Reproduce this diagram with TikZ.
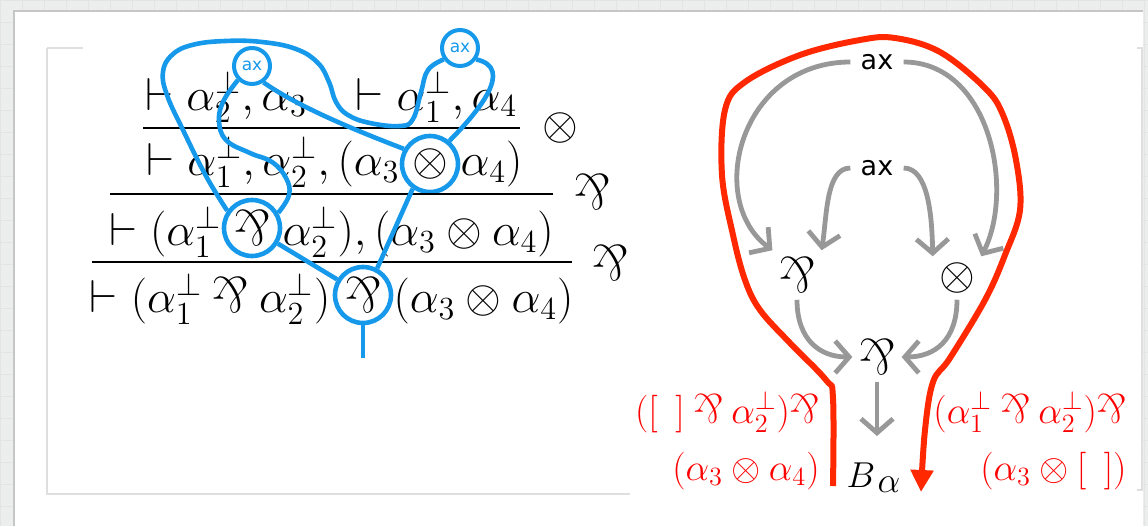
\RequirePackage{fix-cm}
\documentclass[tikz,border=0pt]{standalone}
\usepackage{amsmath}
\usepackage{graphicx}
\usepackage{fontspec}
\newfontfamily\axfont{DejaVu Sans}
\usetikzlibrary{positioning, arrows.meta, calc}
\definecolor{netblue}{RGB}{22,153,235}
\definecolor{flowgray}{RGB}{152,152,152}
\definecolor{trailred}{RGB}{255,40,0}
\definecolor{ctxred}{RGB}{255,0,0}
\definecolor{bggray}{RGB}{236,238,238}
\newcommand{\parrsym}{\mathbin{\scalebox{1.1}{\rotatebox[origin=c]{180}{\&}}}}
\newcommand{\dfont}{\fontsize{23}{28}\selectfont}
\newcommand{\gfont}{\fontsize{23}{28}\selectfont}

\begin{document}
\begin{tikzpicture}[x=0.5pt, y=-0.5pt,
  seq/.style={inner sep=0pt, font=\dfont},
  circ/.style={circle, draw=netblue, line width=2.3pt, minimum size=28pt,
    inner sep=0pt, font=\dfont},
  axc/.style={circle, draw=netblue, line width=2pt, minimum size=18pt,
    inner sep=0pt, text=netblue, font=\axfont\fontsize{8.5}{9}\selectfont},
  net/.style={draw=netblue, line width=2.3pt},
  rulel/.style={line width=0.9pt},
  axn/.style={inner sep=5pt, font=\axfont\fontsize{13.5}{15}\selectfont},
  gnode/.style={inner sep=3pt, font=\gfont},
  flow/.style={draw=flowgray, line width=2.4pt,
    -{Straight Barb[length=7pt, width=16pt]}},
  trail/.style={draw=trailred, line width=3pt,
    -{Triangle[length=11pt, width=11pt]}},
  ctx/.style={inner sep=0pt, text=ctxred, font=\fontsize{18.8}{22}\selectfont}
]
  \useasboundingbox (0,0) rectangle (1148,526);
  \fill[bggray] (0,0) rectangle (1148,526);
  \draw[gray!22, line width=0.4pt, step=11pt] (0,526) grid (1148,0);
  \fill[white] (14,11) rectangle (1143,526);
  \draw[gray!45, line width=1.2pt] (14,526) -- (14,11) -- (1143,11);
  \draw[gray!25, line width=0.8pt] (47,48) -- (83,48) (47,48) -- (47,494) -- (630,494)
    (1137,48) -- (1142,48) -- (1142,490) -- (1137,490);

  % sequent calculus proof
  \node[seq, anchor=base west] (l1a) at (145,110) {$\vdash \alpha_2^{\bot}, \alpha_3$};
  \node[seq, anchor=base west] (l1b) at ([xshift=24pt]l1a.base east) {$\vdash \alpha_1^{\bot}, \alpha_4$};

  \node[circ] (p2) at (430,164) {$\otimes$};
  \node[seq, anchor=base east] (l2a) at (p2.base west) {$\vdash \alpha_1^{\bot}, \alpha_2^{\bot}, (\alpha_3$};
  \node[seq, anchor=base west] (l2b) at (p2.base east) {$\alpha_4)$};

  \node[circ] (p3) at (252,228) {$\parrsym$};
  \node[seq, anchor=base east] (l3a) at (p3.base west) {$\vdash (\alpha_1^{\bot}$};
  \node[seq, anchor=base west] (l3b) at (p3.base east) {$\alpha_2^{\bot}), (\alpha_3 \otimes \alpha_4)$};

  \node[circ] (p4) at (363,295) {$\parrsym$};
  \node[seq, anchor=base east] (l4a) at ([xshift=-1pt]p4.base west) {$\vdash (\alpha_1^{\bot} \parrsym \alpha_2^{\bot})$};
  \node[seq, anchor=base west] (l4b) at (p4.base east) {$(\alpha_3 \otimes \alpha_4)$};

  \draw[rulel] (143,128) -- (520,128);
  \draw[rulel] (110,194) -- (553,194);
  \draw[rulel] (92,262) -- (572,262);
  \node[seq] (r1) at (560,128) {$\otimes$};
  \node[seq] (r2) at (592,192) {$\parrsym$};
  \node[seq] (r3) at (610,263) {$\parrsym$};

  % proof net
  \node[axc] (ax1) at (252,66) {ax};
  \node[axc] (ax2) at (460,48) {ax};
  \coordinate (root) at (363,358);
  \draw[net] plot[smooth, tension=0.7] coordinates {(p3.145) (206,176) (183,130)
    (167,95) (163,72) (172,55) (192,45) (225,41) (262,42) (296,49) (318,63)
    (329,82) (336,102) (348,115) (370,123) (400,126) (413,119) (421,92) (428,70)
    (ax2.215)};
  \draw[net] plot[smooth, tension=0.7] coordinates {(ax1.225) (224,100) (219,120)
    (226,140) (250,153) (272,162) (286,178) (289,195) (p3.30)};
  \draw[net] (ax1.-55) .. controls (300,108) and (360,132) .. (p2.150);
  \draw[net] (p2.50) .. controls (478,112) and (515,68) .. (ax2.-35);
  \draw[net] (p2.-125) -- (p4.62);
  \draw[net] (p3) -- (p4);
  \draw[net] (p4) -- (root);

  % correctness graph
  \node[axn] (axt) at (877,62) {ax};
  \node[axn] (axm) at (877,168) {ax};
  \node[gnode] (pl) at (797,275) {$\parrsym$};
  \node[gnode] (tn) at (957,278) {$\otimes$};
  \node[gnode] (pb) at (877,357) {$\parrsym$};
  \node[gnode, anchor=base, font=\fontsize{18}{22}\selectfont] (Ba) at (874,487) {$B_{\,\textstyle\alpha}$};

  \draw[flow] (axt.west) .. controls (740,62) and (705,200) .. (pl.north west);
  \draw[flow] (axt.east) .. controls (990,62) and (1015,190) .. (tn.north east);
  \draw[flow] (axm.west) .. controls (826,168) and (827,215) .. (pl.north east);
  \draw[flow] (axm.east) .. controls (928,168) and (932,215) .. (tn.north west);
  \draw[flow] (pl.south) .. controls (797,340) and (820,357) .. (pb.west);
  \draw[flow] (tn.south) .. controls (957,340) and (935,357) .. (pb.east);
  \draw[flow, shorten >=10pt] (pb.south) -- (pb.south |- Ba.north);

  \draw[trail] plot[smooth, tension=0.6] coordinates {(833,486) (833,398) (826,380)
    (790,343) (760,310) (745,280) (733,235) (722,175) (725,110) (745,82) (800,55)
    (860,40) (895,38) (940,52) (985,88) (1003,115) (1016,160) (1020,210) (1005,255)
    (985,300) (950,358) (933,382) (925,430) (921,492)};

  \node[ctx, anchor=base east] (ctxl) at (820,423) {$([\ \,]\parrsym \alpha_2^{\bot})\parrsym$};
  \node[ctx, anchor=base east] (ctxl2) at ([yshift=-28.5pt]ctxl.base east) {$(\alpha_3 \otimes \alpha_4)$};
  \node[ctx, anchor=base east] (ctxr) at (1127,423) {$(\alpha_1^{\bot} \parrsym \alpha_2^{\bot})\parrsym$};
  \node[ctx, anchor=base east] (ctxr2) at ([yshift=-28.5pt]ctxr.base east) {$(\alpha_3 \otimes [\ \,])$};
\end{tikzpicture}
\end{document}
